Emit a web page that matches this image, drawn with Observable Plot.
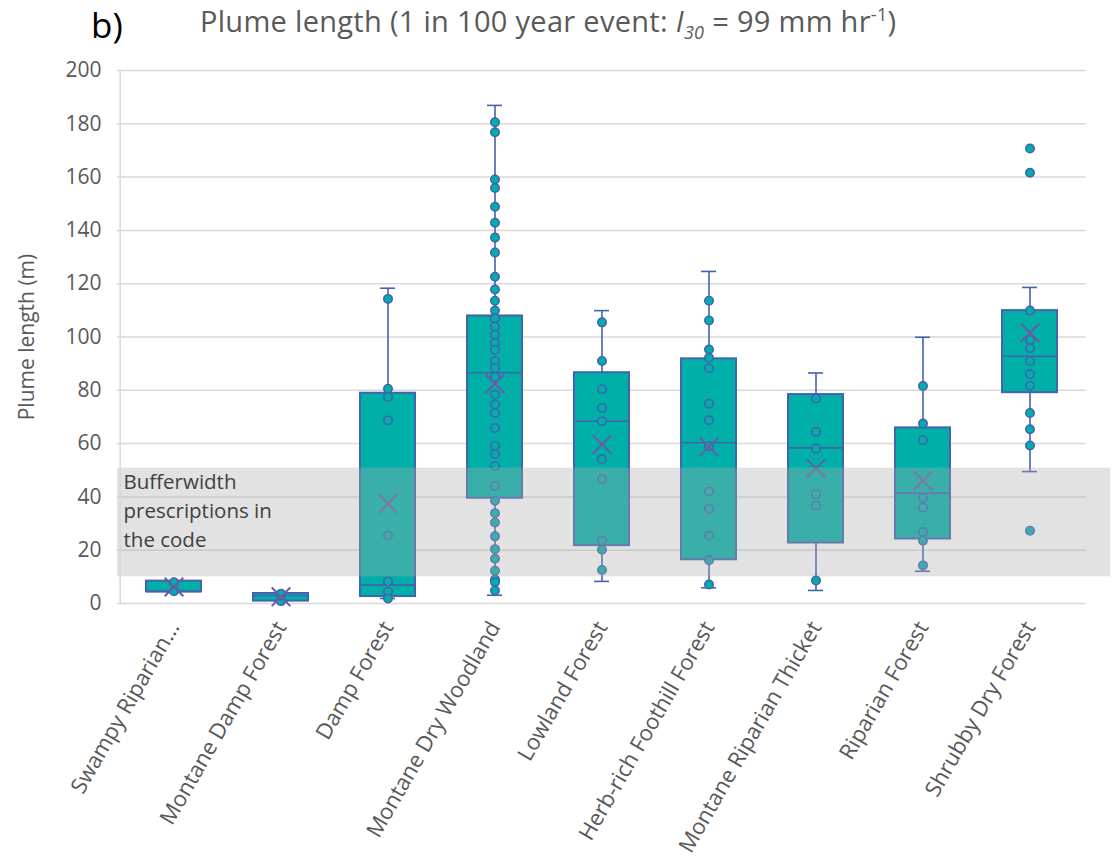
<!DOCTYPE html>
<html>
<head>
<meta charset="utf-8">
<script src="https://cdn.jsdelivr.net/npm/d3@7"></script>
<script src="https://cdn.jsdelivr.net/npm/@observablehq/plot@0.6"></script>
<style>
  body { margin: 0; background: #fff; }
  #wrap { position: relative; width: 1116px; height: 860px; overflow: hidden; }
  #panel { position: absolute; left: 91px; top: 4px; font-family: "Open Sans", sans-serif; font-size: 35px; line-height: 1.2; color: #000; }
  #title { position: absolute; left: 200px; top: 4px; font-family: "Open Sans", sans-serif; font-size: 29px; line-height: 1.2; color: #595959; white-space: nowrap; letter-spacing: 0.3px; }
  #title sub, #title sup { font-size: 18px; }
  #chart { position: absolute; left: 0; top: 0; }
</style>
</head>
<body>
<div id="wrap">
  <div id="chart"></div>
  <div id="panel">b)</div>
  <div id="title">Plume length (1 in 100 year event: <i>I</i><sub><i>30</i></sub> = 99 mm hr<sup>-1</sup>)</div>
</div>
<script>
const categories = ["Swampy Riparian...", "Montane Damp Forest", "Damp Forest", "Montane Dry Woodland", "Lowland Forest", "Herb-rich Foothill Forest", "Montane Riparian Thicket", "Riparian Forest", "Shrubby Dry Forest"];
const whiskerLow  = [4.4, 0.9, 1.9, 3.1, 8.3, 5.9, 4.9, 12.1, 49.5];
const quartile1   = [4.4, 0.9, 2.6, 39.5, 21.7, 16.4, 22.7, 24.2, 79.1];
const median      = [4.4, 3.0, 6.9, 86.6, 68.4, 60.3, 58.4, 41.4, 92.8];
const quartile3   = [8.4, 3.75, 78.9, 107.9, 86.6, 91.8, 78.4, 65.9, 109.9];
const whiskerHigh = [8.4, 3.75, 118.3, 186.9, 109.9, 124.6, 86.5, 99.9, 118.6];
const mean        = [6.2, 2.5, 37.4, 82.5, 59.7, 58.8, 50.7, 46.1, 101.6];
const points = [
  [4.6, 8.0],
  [0.9, 3.0, 3.7],
  [114.3, 80.6, 77.5, 68.7, 25.5, 8.3, 4.4, 1.9],
  [180.6, 176.8, 159.1, 155.9, 148.9, 142.9, 137.3, 131.7, 122.6, 117.8, 113.6, 109.9, 107.0, 103.9, 100.8, 97.8, 95.2, 91.0, 88.3, 85.0, 78.4, 74.7, 71.5, 65.9, 59.2, 56.1, 51.6, 44.1, 38.6, 33.9, 30.4, 25.2, 20.4, 16.8, 12.3, 9.0, 8.0, 4.9],
  [105.5, 91.0, 80.4, 73.4, 68.4, 54.1, 46.6, 23.6, 20.2, 12.6],
  [113.6, 106.2, 95.3, 92.2, 88.3, 75.0, 68.8, 59.0, 42.0, 35.6, 25.5, 16.2, 7.1],
  [76.9, 64.4, 58.2, 41.1, 36.9, 8.6],
  [81.6, 67.5, 61.3, 39.7, 36.0, 26.8, 23.6, 14.3],
  [170.7, 161.6, 109.9, 98.9, 95.8, 91.0, 86.1, 81.7, 71.5, 65.4, 59.3, 27.3]
];
const yTicks = [0, 20, 40, 60, 80, 100, 120, 140, 160, 180, 200];
const bufferBand = [{lo: 10.0, hi: 50.8, label: "Bufferwidth\nprescriptions in\nthe code"}];

const stats = categories.map((c, i) => ({
  cat: c, low: whiskerLow[i], q1: quartile1[i], med: median[i], q3: quartile3[i], high: whiskerHigh[i], mean: mean[i]
}));
const pts = categories.flatMap((c, i) => points[i].map(v => ({cat: c, v})));

const teal = "#00b0a8";
const blue = "#4263ad";
const xColor = "#6a5ba6";
const font = "Open Sans, sans-serif";

const chart = Plot.plot({
  width: 1116,
  height: 860,
  marginTop: 70,
  marginBottom: 257,
  marginLeft: 117,
  marginRight: 30,
  style: {fontFamily: font, background: "transparent"},
  x: {domain: categories, padding: 0, label: null},
  y: {domain: [0, 200], label: null},
  marks: [
    Plot.gridY(yTicks, {stroke: "#d9d9d9", strokeOpacity: 1, strokeWidth: 1.5}),
    Plot.axisY(yTicks, {tickSize: 0, tickPadding: 16, fontSize: 21, fill: "#595959", label: "Plume length (m)", labelAnchor: "center", labelOffset: 98, labelArrow: "none"}),
    Plot.axisX({tickSize: 0, tickPadding: 20, tickRotate: -60, fontSize: 22, fill: "#595959", label: null}),
    Plot.ruleX(stats, {x: "cat", y1: "low", y2: "high", stroke: blue, strokeWidth: 1.6}),
    Plot.tickY(stats, {x: "cat", y: "low", stroke: blue, strokeWidth: 1.6, insetLeft: 46, insetRight: 46}),
    Plot.tickY(stats, {x: "cat", y: "high", stroke: blue, strokeWidth: 1.6, insetLeft: 46, insetRight: 46}),
    Plot.barY(stats, {x: "cat", y1: "q1", y2: "q3", fill: teal, stroke: blue, strokeWidth: 2, insetLeft: 26, insetRight: 26}),
    Plot.tickY(stats, {x: "cat", y: "med", stroke: blue, strokeWidth: 1.6, insetLeft: 26, insetRight: 26}),
    Plot.dot(pts, {x: "cat", y: "v", r: 4.2, fill: teal, stroke: blue, strokeWidth: 1.6}),
    Plot.dot(stats, {x: "cat", y: "mean", symbol: "times", r: 8.5, stroke: xColor, strokeWidth: 2}),
    Plot.rectY(bufferBand, {y1: "lo", y2: "hi", fill: "#aaaaaa", fillOpacity: 0.34, insetRight: -24}),
    Plot.text(bufferBand, {y: "hi", text: "label", frameAnchor: "left", textAnchor: "start", lineAnchor: "top", dx: 6, dy: 0, fontSize: 20.5, lineHeight: 1.42, fill: "#404040"}),
    Plot.ruleX([categories[0]], {stroke: "#d9d9d9", strokeWidth: 1.5, dx: -53.85, y1: 0, y2: 200})
  ]
});
document.getElementById("chart").appendChild(chart);
</script>
</body>
</html>
